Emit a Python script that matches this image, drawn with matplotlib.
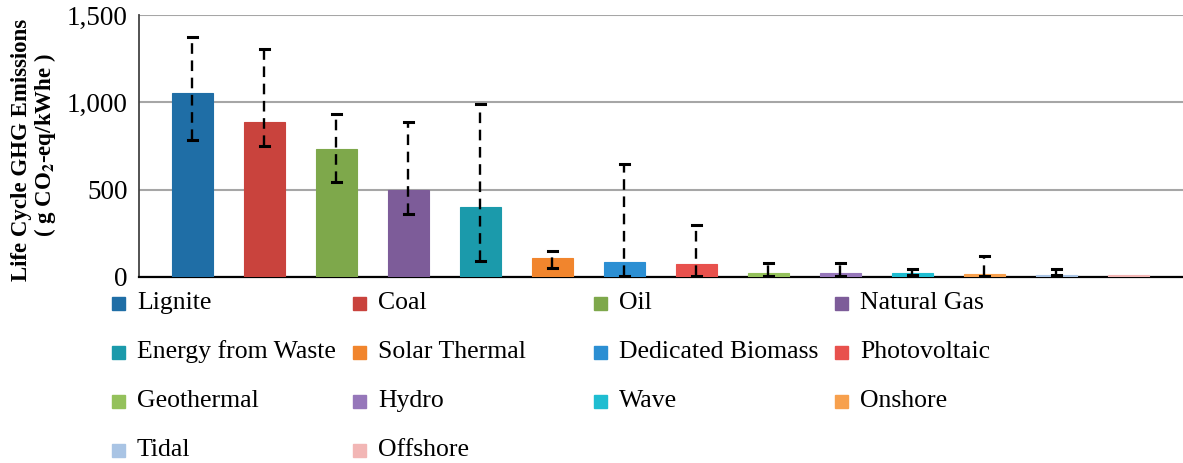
import matplotlib.pyplot as plt
from matplotlib.patches import Rectangle

plt.rcParams['font.family'] = ['Liberation Serif', 'DejaVu Serif']
plt.rcParams['mathtext.fontset'] = 'stix'

# data
sources = ['Lignite', 'Coal', 'Oil', 'Natural Gas', 'Energy from Waste', 'Solar Thermal',
           'Dedicated Biomass', 'Photovoltaic', 'Geothermal', 'Hydro', 'Wave', 'Onshore',
           'Tidal', 'Offshore']
emissions = [1054, 888, 733, 499, 400, 110, 85, 75, 25, 24, 23, 15, 14, 11]
err_high = [1372, 1306, 935, 888, 990, 150, 647, 298, 80, 82, 44, 120, 44, None]
err_low = [785, 750, 544, 362, 92, 50, 8, 8, 6, 3, 13, 3, 12, None]
colors = ['#1f6ea6', '#c9433d', '#7ea84b', '#7d5c99', '#1b9aab', '#f1852d',
          '#2c8fd3', '#e8514d', '#94c15b', '#9677ba', '#1fbdd1', '#f7a04d',
          '#a9c4e4', '#f2b6b5']
yticks = [0, 500, 1000, 1500]

W, H = 1183, 463
fig = plt.figure(figsize=(W / 100, H / 100), dpi=100)
ax = fig.add_axes([139 / W, 1 - 277 / H, 1 - 139 / W, (277 - 15) / H])

x = list(range(len(sources)))
ax.bar(x, emissions, width=0.57, color=colors, edgecolor=colors, linewidth=0.8, zorder=3)

for i in x:
    if err_high[i] is None:
        continue
    ax.plot([i, i], [err_low[i], err_high[i]], color='black', lw=1.7,
            linestyle=(0, (4.5, 2.8)), zorder=4)
    for yv in (err_low[i], err_high[i]):
        ax.plot([i - 0.06, i + 0.06], [yv, yv], color='black', lw=2.2, zorder=4)

ax.set_xlim(-0.74, 13.76)
ax.set_ylim(0, 1500)
ax.set_yticks(yticks)
ax.set_yticklabels(['{:,}'.format(v) for v in yticks], fontsize=19.5)
ax.set_xticks([])
ax.tick_params(axis='y', length=0, pad=8)
ax.grid(axis='y', color='#a6a6a6', lw=1.5, zorder=0)
ax.set_axisbelow(True)
for s in ['top', 'right']:
    ax.spines[s].set_visible(False)
ax.spines['left'].set_color('#444444')
ax.spines['left'].set_linewidth(1.3)
ax.spines['bottom'].set_color('black')
ax.spines['bottom'].set_linewidth(1.6)

fig.text(22 / W, 1 - 150 / H, 'Life Cycle GHG Emissions', rotation=90, fontsize=16.5,
         fontweight='bold', ha='center', va='center')
fig.text(45 / W, 1 - 145 / H, r'( g CO$_\mathbf{2}$-eq/kWhe )', rotation=90, fontsize=16.5,
         fontweight='bold', ha='center', va='center')

# legend laid out in a 4-column grid like the original
for i, (name, c) in enumerate(zip(sources, colors)):
    row, col = divmod(i, 4)
    lx = 112 + col * 241
    ly = 303 + row * 49
    fig.patches.append(Rectangle((lx / W, 1 - (ly + 6.5) / H), 13 / W, 13 / H,
                                 transform=fig.transFigure, color=c, figure=fig))
    fig.text((lx + 25) / W, 1 - ly / H, name, fontsize=18.5, ha='left', va='center')

fig.savefig('out.png', dpi=100)
